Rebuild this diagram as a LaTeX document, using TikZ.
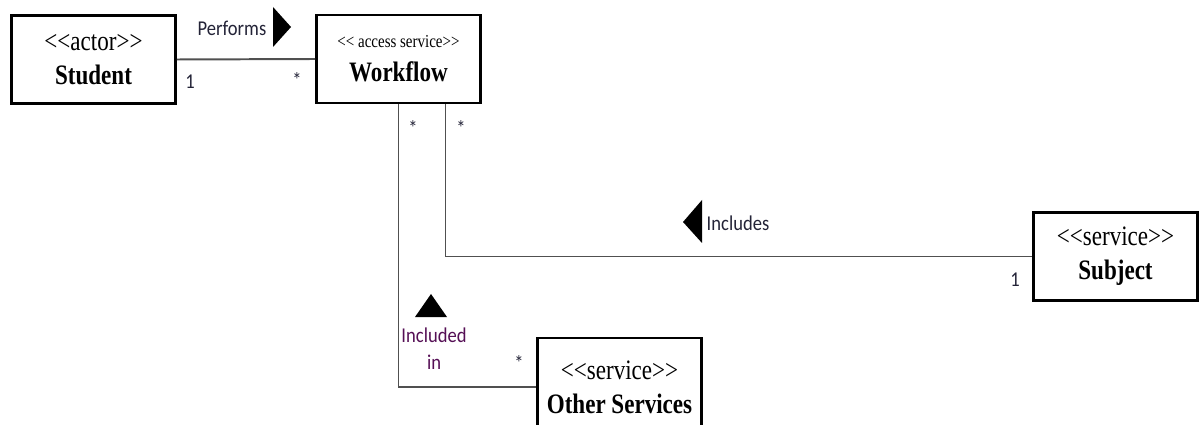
\documentclass[tikz,border=0pt]{standalone}
\usepackage{fontspec}
\setmainfont{Liberation Serif}[FakeStretch=0.82, Ligatures=TeXOff]
\newfontfamily\labelfont{Carlito}[FakeStretch=0.88]
\usepackage{xcolor}
\usepackage{tikz}
\usetikzlibrary{calc}
\definecolor{linegray}{RGB}{80,80,80}
\definecolor{labelink}{RGB}{35,35,55}
\definecolor{inclink}{RGB}{85,15,85}
\tikzset{
	classbox/.style={draw, line width=1.8pt, minimum width=4.1cm, minimum height=2.2cm,
		align=center, inner sep=0pt, font=\fontsize{20}{24}\selectfont},
	assoc/.style={draw=linegray, line width=1.4pt},
	multlabel/.style={inner sep=0pt, text=labelink, font=\labelfont\fontsize{15}{16}\selectfont},
	roletext/.style={inner sep=0pt, text=labelink, font=\labelfont\fontsize{15}{16}\selectfont},
	dirmark/.style={fill=black}
}

\begin{document}
\begin{tikzpicture}[x=0.025cm, y=-0.025cm]
	\useasboundingbox (0,0) rectangle (1200,425);
	
	% classes
	\node[classbox] (stu) at (93.5,59.5) {<<actor>>\\ \textbf{Student}};
	\node[classbox] (wf) at (398.5,59) {{\fontsize{13}{24}\selectfont<< access service>>}\\ \textbf{Workflow}};
	\node[classbox] (subj) at (1115.5,256.5) {<<service>>\\ \textbf{Subject}};
	\node[classbox,
	minimum height=2.45cm
	] (oth) at (619.5,387) {<<service>>\\ \textbf{Other Services}};
	
	% associations
	\draw[assoc] (stu.east) -- (wf.west);
	\draw[assoc] ($(wf.south)+(47,0)$) |- (subj.west);
	\draw[assoc] (wf.south) |- (oth.west);
	
	% multiplicities
	\node[multlabel] (m1) at (190,82) {1};
	\node[multlabel] (m2) at (297,80) {*};
	\node[multlabel] (m3) at (413,128) {*};
	\node[multlabel] (m4) at (461,128) {*};
	\node[multlabel] (m5) at (1015,280) {1};
	\node[multlabel] (m6) at (519,363) {*};
	
	% association names
	\node[roletext] (perf) at (232,28) {Performs};
	\fill[dirmark] (273,7) -- (291,27) -- (273,47) -- cycle;
	\node[roletext] (incl) at (738,223) {Includes};
	\fill[dirmark] (702,200) -- (683,222) -- (702,243) -- cycle;
	\node[roletext, text=inclink, align=center] (inclin) at (434,349) {Included\\[3pt]in};
	\fill[dirmark] (415,317) -- (431,294) -- (447,317) -- cycle;
\end{tikzpicture}
\end{document}
